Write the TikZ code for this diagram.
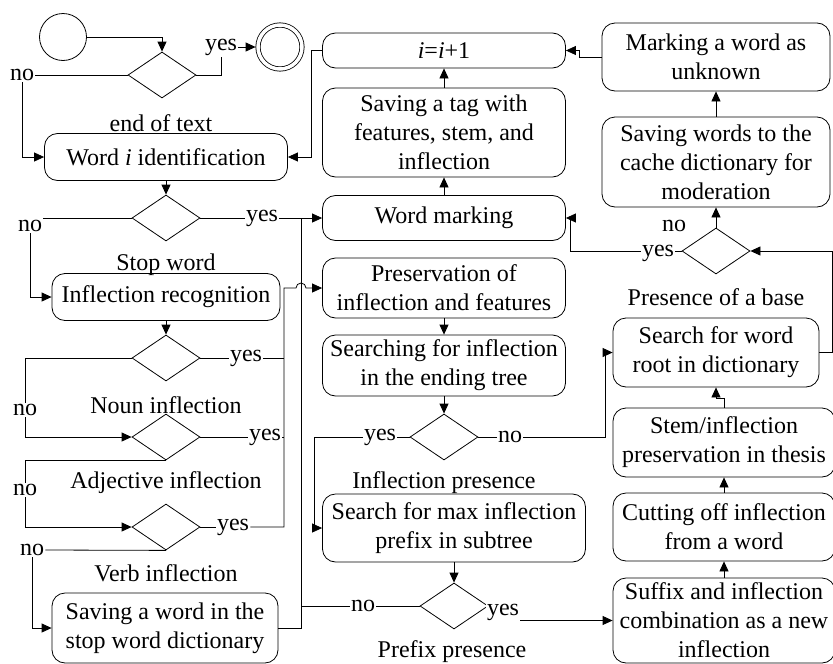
\documentclass[tikz,border=0pt]{standalone}
\usepackage{fontspec}
\setmainfont{Liberation Serif}
\usetikzlibrary{shapes.geometric}
\usetikzlibrary{arrows.meta}
\usetikzlibrary{calc}

\begin{document}
\begin{tikzpicture}[x=1pt,y=-1pt,
    font=\fontsize{24}{29}\selectfont,
    line width=0.8pt,
    box/.style={draw, rounded corners=13pt, align=center, inner sep=0pt},
    dec/.style={draw, diamond, inner sep=0pt, minimum width=68pt, minimum height=46pt},
    lbl/.style={fill=white, inner sep=1pt},
    arr/.style={-{Triangle[length=10pt,width=9pt]}}]
            \useasboundingbox (0,0) rectangle (833,664);

            % Start and end states
            \node [draw, circle, minimum size=47pt, inner sep=0pt] (start) at (63,37) {};%
            \node [draw, circle, double, double distance=3.5pt, minimum size=44pt, inner sep=0pt] (final) at (280,47) {};%

            % Left column: word and part of speech checks
            \node [dec] (dend) at (162,75) {};%
            \node (capend) at (161,123) {end of text};%
            \node [box, minimum width=243pt, minimum height=47pt] (wordid) at (166,157) {Word \textit{i} identification};%
            \node [dec] (dstop) at (166,218) {};%
            \node (capstop) at (166,265) {Stop word};%
            \node [box, minimum width=228pt, minimum height=47pt] (inflrec) at (166,297) {Inflection recognition};%
            \node [dec] (dnoun) at (166,358) {};%
            \node (capnoun) at (166,405) {Noun inflection};%
            \node [dec] (dadj) at (166,437) {};%
            \node (capadj) at (166,483) {Adjective inflection};%
            \node [dec] (dverb) at (166,527) {};%
            \node (capverb) at (166,573) {Verb inflection};%
            \node [box, minimum width=226pt, minimum height=70pt] (savestop) at (165,628) {Saving a word in the\\stop word dictionary};%

            % Middle column: tagging and inflection search
            \node [box, minimum width=243pt, minimum height=35pt] (incr) at (444,50.5) {\textit{i}=\textit{i}+1};%
            \node [box, minimum width=243pt, minimum height=89pt] (savetag) at (444,132.5) {Saving a tag with\\features, stem, and\\inflection};%
            \node [box, minimum width=243pt, minimum height=45pt] (marking) at (444,218) {Word marking};%
            \node [box, minimum width=243pt, minimum height=60pt] (preserve) at (444,288) {Preservation of\\inflection and features};%
            \node [box, minimum width=243pt, minimum height=61pt] (searching) at (444,365.5) {Searching for inflection\\in the ending tree};%
            \node [dec] (dinfl) at (444,437) {};%
            \node (capinfl) at (444,483) {Inflection presence};%
            \node [box, minimum width=263pt, minimum height=68pt] (searchmax) at (454,528) {Search for max inflection\\prefix in subtree};%
            \node [dec] (dprefix) at (454,606) {};%
            \node (capprefix) at (452,652) {Prefix presence};%

            % Right column: dictionary lookup
            \node [box, minimum width=228pt, minimum height=68pt] (unknown) at (716,57) {Marking a word as\\unknown};%
            \node [box, minimum width=228pt, minimum height=90pt] (cache) at (716,162) {Saving words to the\\cache dictionary for\\moderation};%
            \node [dec] (dbase) at (716,251) {};%
            \node (capbase) at (716,297) {Presence of a base};%
            \node [box, minimum width=206pt, minimum height=69pt] (root) at (716,352.5) {Search for word\\root in dictionary};%
            \node [box, minimum width=222pt, minimum height=69pt] (stem) at (724,442.5) {Stem/inflection\\preservation in thesis};%
            \node [box, minimum width=222pt, minimum height=68pt] (cutting) at (724,527) {Cutting off inflection\\from a word};%
            \node [box, minimum width=222pt, minimum height=85pt] (suffix) at (724,620.5) {Suffix and inflection\\combination as a new\\inflection};%

            % Branch labels
            \node [lbl] (noend) at (22,75) {no};%
            \node [lbl] (yesend) at (221,47) {yes};%
            \node [lbl] (nostop) at (30,226) {no};%
            \node [lbl] (yesstop) at (262,218) {yes};%
            \node [lbl] (nonoun) at (25,410) {no};%
            \node [lbl] (yesnoun) at (246,358) {yes};%
            \node [lbl] (noadj) at (25,490) {no};%
            \node [lbl] (yesadj) at (265,437) {yes};%
            \node [lbl] (noverb) at (32,550) {no};%
            \node [lbl] (yesverb) at (233,527) {yes};%
            \node [lbl] (yesinfl) at (380,437) {yes};%
            \node [lbl] (noinfl) at (510,437) {no};%
            \node [lbl] (noprefix) at (363,606) {no};%
            \node [lbl] (yesprefix) at (503,612) {yes};%
            \node [inner sep=1pt] (nobase) at (674,226) {no};%
            \node [lbl] (yesbase) at (658,253) {yes};%

            % Bus points
            \coordinate (busA) at (284,288);%
            \coordinate (busB) at (301,218);%

            % Drawing left column connectors
            \draw [arr] (start.east) -| (dend.north);%
            \draw (dend.west) -- (noend.east);%
            \draw [arr] (noend.south) |- (wordid.west);%
            \draw (dend.east) -| (yesend.south);%
            \draw [arr, shorten >=2pt] (yesend.east) -- (final.west);%
            \draw [arr] (wordid.south) -- (dstop.north);%
            \draw (dstop.west) -- (nostop.east |- dstop.west);%
            \draw [arr] (nostop.south) |- (inflrec.west);%
            \draw (dstop.east) -- (yesstop.west);%
            \draw [arr] (yesstop.east) -- (marking.west);%
            \draw [arr] (inflrec.south) -- (dnoun.north);%
            \draw (dnoun.west) -| (nonoun.north);%
            \draw [arr] (nonoun.south) |- (dadj.west);%
            \draw (dadj.south) -| (noadj.north);%
            \draw [arr] (noadj.south) |- (dverb.west);%
            \draw (dverb.south) -- (noverb.east);%
            \draw [arr] (noverb.south) |- (savestop.west);%
            \draw (dnoun.east) -- (yesnoun.west);%
            \draw (yesnoun.east) -- (yesnoun.east -| busA);%
            \draw (dadj.east) -- (yesadj.west);%
            \draw (yesadj.east) -- (yesadj.east -| busA);%
            \draw (dverb.east) -- (yesverb.west);%
            \draw [arr] (yesverb.east) -- (yesverb.east -| busA) -- (busA) -- ++(12,0) arc (180:360:5) -- (preserve.west);%
            \draw (savestop.east) -| (busB);%

            % Drawing middle column connectors
            \draw [arr] (incr.west) -- ++(-11,0) |- (wordid.east);%
            \draw [arr] (savetag.north) -- (incr.south);%
            \draw [arr] (marking.north) -- (savetag.south);%
            \draw [arr] (preserve.south) -- (searching.north);%
            \draw [arr] (searching.south) -- (dinfl.north);%
            \draw (dinfl.west) -- (yesinfl.east);%
            \draw [arr] (yesinfl.west) -- ++(-48,0) |- (searchmax.west);%
            \draw (dinfl.east) -- (noinfl.west);%
            \draw [arr] (noinfl.east) -- ++(82,0) |- (root.west);%
            \draw [arr] (searchmax.south) -- (dprefix.north);%
            \draw (dprefix.west) -- (noprefix.east);%
            \draw (noprefix.west) -- (noprefix.west -| busB);%
            \draw [arr] (yesprefix.east |- suffix.west) -- (suffix.west);%

            % Drawing right column connectors
            \draw [arr] (suffix.north) -- (cutting.south);%
            \draw [arr] (cutting.north) -- (stem.south);%
            \draw [arr] (stem.north) -- ++(0,-9) -| (root.south);%
            \draw [arr] (root.east) -- ++(13,0) |- (dbase.east);%
            \draw [arr] (dbase.north) -- (cache.south);%
            \draw (dbase.west) -- (yesbase.east |- dbase.west);%
            \draw [arr] (yesbase.west |- dbase.west) -- ++(-70,0) |- (marking.east);%
            \draw [arr] (cache.north) -- (unknown.south);%
            \draw [arr] (unknown.west) -- ++(-22,0) |- (incr.east);%
\end{tikzpicture}
\end{document}
